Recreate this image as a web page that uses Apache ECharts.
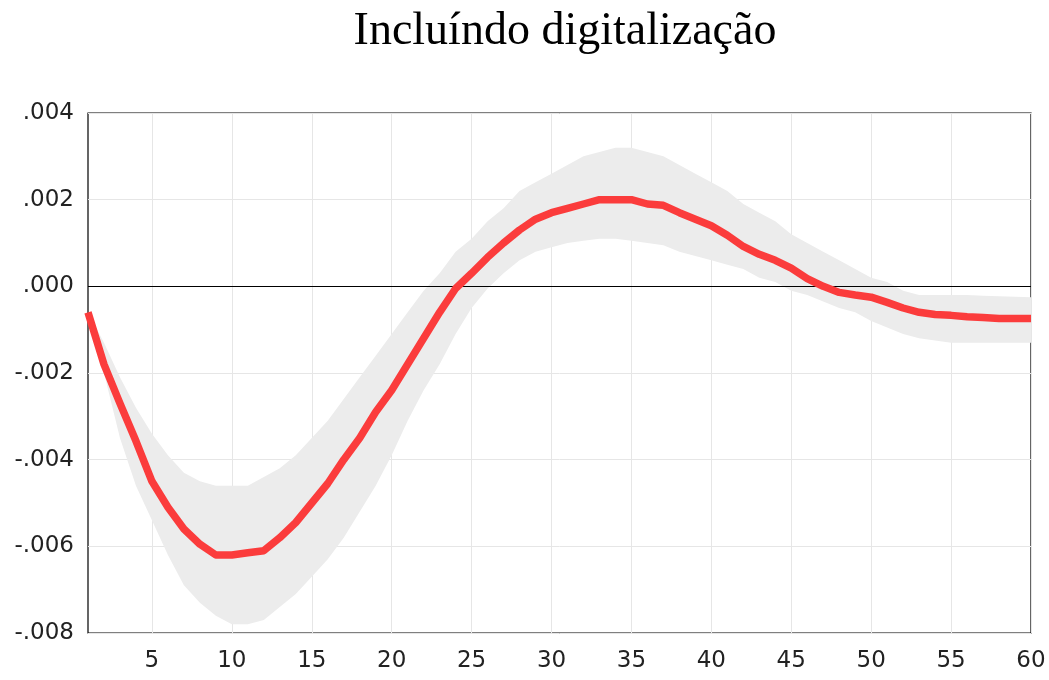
<!DOCTYPE html>
<html>
<head>
<meta charset="utf-8">
<script src="https://cdn.jsdelivr.net/npm/echarts@6/dist/echarts.min.js"></script>
<style>
  html, body { margin: 0; padding: 0; background: #fff; }
  #chart { width: 1049px; height: 680px; }
</style>
</head>
<body>
<div id="chart"></div>
<script>
// horizon 1..60
const periods = [];
for (let i = 1; i <= 60; i++) periods.push(String(i));

const response = [
  -0.0006, -0.0018, -0.0027, -0.00357, -0.0045, -0.0051, -0.0056, -0.00595, -0.0062, -0.0062,
  -0.00615, -0.0061, -0.0058, -0.00545, -0.0050, -0.00455, -0.0040, -0.0035, -0.0029, -0.0024,
  -0.0018, -0.0012, -0.0006, -0.00005, 0.0003, 0.00067, 0.0010, 0.0013, 0.00155, 0.0017,
  0.0018, 0.0019, 0.0020, 0.0020, 0.0020, 0.0019, 0.00187, 0.0017, 0.00155, 0.0014,
  0.00118, 0.00092, 0.00074, 0.0006, 0.00042, 0.00018, 0.0, -0.00014, -0.0002, -0.00025,
  -0.00037, -0.0005, -0.0006, -0.00065, -0.00067, -0.0007, -0.00072, -0.00074, -0.00074, -0.00074
];

const upper = [
  -0.0006, -0.0013, -0.0021, -0.0028, -0.0034, -0.0039, -0.0043, -0.0045, -0.0046, -0.0046,
  -0.0046, -0.0044, -0.0042, -0.0039, -0.0035, -0.0031, -0.0026, -0.0021, -0.0016, -0.0011,
  -0.0006, -0.0001, 0.0003, 0.0008, 0.0011, 0.0015, 0.0018, 0.0022, 0.0024, 0.0026,
  0.0028, 0.0030, 0.0031, 0.0032, 0.0032, 0.0031, 0.0030, 0.0028, 0.0026, 0.0024,
  0.0022, 0.0019, 0.0017, 0.0015, 0.0012, 0.0010, 0.0008, 0.0006, 0.0004, 0.0002,
  0.0001, -0.0001, -0.0002, -0.0002, -0.0002, -0.0002, -0.00022, -0.00023, -0.00024, -0.00025
];

const lower = [
  -0.0006, -0.0020, -0.0035, -0.0046, -0.0054, -0.0062, -0.0069, -0.0073, -0.0076, -0.0078,
  -0.0078, -0.0077, -0.0074, -0.0071, -0.0067, -0.0063, -0.0058, -0.0052, -0.0046, -0.0039,
  -0.0031, -0.0024, -0.0018, -0.0011, -0.0005, -0.00005, 0.0003, 0.0006, 0.0008, 0.0009,
  0.0010, 0.00105, 0.0011, 0.0011, 0.00105, 0.0010, 0.00095, 0.0008, 0.0007, 0.0006,
  0.0005, 0.0004, 0.0002, 0.0001, -0.0001, -0.0002, -0.00035, -0.0005, -0.0006, -0.0008,
  -0.00095, -0.0011, -0.0012, -0.00125, -0.0013, -0.0013, -0.0013, -0.0013, -0.0013, -0.0013
];

const bandWidth = upper.map((u, i) => u - lower[i]);

function fmtTick(v) {
  if (Math.abs(v) < 1e-9) return '.000';
  return v.toFixed(3).replace('0.', '.');
}

const chart = echarts.init(document.getElementById('chart'));
chart.setOption({
  animation: false,
  title: {
    text: 'Incluíndo digitalização',
    left: 560,
    textAlign: 'center',
    top: 4,
    textStyle: { fontFamily: 'Liberation Serif', fontSize: 46, fontWeight: 'normal', color: '#000' }
  },
  grid: {
    left: 88, right: 18, top: 113, bottom: 47,
    show: true, borderColor: '#000', borderWidth: 1.2, backgroundColor: 'transparent'
  },
  xAxis: {
    type: 'category',
    data: periods,
    boundaryGap: false,
    axisLine: { show: false },
    axisTick: { show: false },
    axisLabel: {
      interval: (idx, val) => Number(val) % 5 === 0,
      fontFamily: 'DejaVu Sans', fontSize: 23, color: '#222', margin: 17
    },
    splitLine: {
      show: true,
      interval: (idx, val) => Number(val) % 5 === 0,
      lineStyle: { color: '#e6e6e6', width: 1 }
    }
  },
  yAxis: {
    type: 'value',
    min: -0.008, max: 0.004, interval: 0.002,
    axisLine: { show: false },
    axisTick: { show: false },
    axisLabel: {
      formatter: fmtTick,
      fontFamily: 'DejaVu Sans', fontSize: 23, color: '#222', margin: 14
    },
    splitLine: { show: true, lineStyle: { color: '#e6e6e6', width: 1 } }
  },
  series: [
    {
      name: 'lower',
      type: 'line',
      data: lower,
      stack: 'band',
      stackStrategy: 'all',
      symbol: 'none',
      lineStyle: { opacity: 0 },
      silent: true
    },
    {
      name: 'band',
      type: 'line',
      data: bandWidth,
      stack: 'band',
      stackStrategy: 'all',
      symbol: 'none',
      lineStyle: { opacity: 0 },
      areaStyle: { color: '#ececec', opacity: 1 },
      silent: true
    },
    {
      name: 'response',
      type: 'line',
      data: response,
      symbol: 'none',
      z: 5,
      lineStyle: { color: '#fb3c3c', width: 7.5, join: 'round' },
      markLine: {
        silent: true,
        symbol: 'none',
        label: { show: false },
        lineStyle: { color: '#000', width: 1.2, type: 'solid' },
        data: [{ yAxis: 0 }]
      }
    }
  ]
});
</script>
</body>
</html>
